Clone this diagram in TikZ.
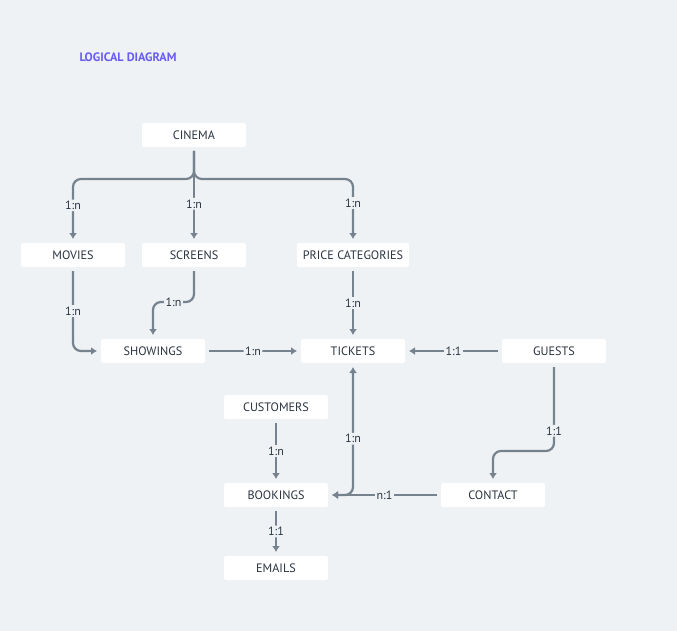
\documentclass[tikz,border=0pt]{standalone}
\usepackage{fontspec}
\setmainfont{PT Sans}
\usetikzlibrary{arrows.meta,positioning}
\definecolor{DiagramBack}{HTML}{EEF2F5}
\definecolor{DiagramLine}{HTML}{76838F}
\definecolor{DiagramText}{HTML}{2B3340}
\definecolor{DiagramTitle}{HTML}{6A5CF2}

\begin{document}
\begin{tikzpicture}[
    x=1pt,y=1pt,
    box/.style={
      fill=white,
      rounded corners=2pt,
      align=center,
      minimum width=104pt,
      minimum height=24pt,
      inner xsep=6pt,
      outer sep=4pt,
      text=DiagramText,
      font=\fontsize{12.2}{14}\selectfont
    },
    lbl/.style={
      fill=DiagramBack,
      inner sep=1.5pt,
      text=DiagramText,
      font=\fontsize{12}{14}\selectfont
    },
    link/.style={
      DiagramLine,line width=2.2pt,rounded corners=8pt,
      -{Latex[length=6pt,width=8pt]}
    }
  ]
    \fill[DiagramBack] (0,0) rectangle (677,-631);
    \useasboundingbox (0,0) rectangle (677,-631);
    \node[anchor=west,text=DiagramTitle,font=\fontsize{12.2}{14}\selectfont\bfseries] (title) at (76,-57)
      {LOGICAL DIAGRAM};
    \node[box] (cinema) at (194,-135) {CINEMA};
    \node[box] (movies) at (73,-255) {MOVIES};
    \node[box] (screens) at (194,-255) {SCREENS};
    \node[box] (price) at (353,-255) {PRICE CATEGORIES};
    \node[box] (showings) at (153,-351) {SHOWINGS};
    \node[box] (tickets) at (353,-351) {TICKETS};
    \node[box] (guests) at (554,-351) {GUESTS};
    \node[box] (customers) at (276,-407) {CUSTOMERS};
    \node[box] (bookings) at (276,-495) {BOOKINGS};
    \node[box] (contact) at (493,-495) {CONTACT};
    \node[box] (emails) at (276,-568) {EMAILS};
    % cinema fan-out
    \draw[link] (cinema.south) -- ++(0,-28) -| node[lbl,pos=0.72] {1:n} (movies.north);
    \draw[link] (cinema.south) -- node[lbl,pos=0.6] {1:n} (screens.north);
    \draw[link] (cinema.south) -- ++(0,-28) -| node[lbl,pos=0.7] {1:n} (price.north);
    % showings
    \draw[link] (movies.south) |- node[lbl,pos=0.25] {1:n} (showings.west);
    \draw[link] (screens.south) -- ++(0,-31) -| node[lbl,pos=0.25] {1:n} (showings.north);
    % tickets
    \draw[link] (showings.east) -- node[lbl] {1:n} (tickets.west);
    \draw[link] (price.south) -- node[lbl] {1:n} (tickets.north);
    \draw[link] (guests.west) -- node[lbl] {1:1} (tickets.east);
    \draw[link] (guests.south) -- node[lbl,pos=0.76] {1:1} ++(0,-84) -| (contact.north);
    % bookings
    \draw[link,{Latex[length=6pt,width=8pt]}-{Latex[length=6pt,width=8pt]}] (tickets.south) |- node[lbl,pos=0.28] {1:n} (bookings.east);
    \draw[link] (contact.west) -- node[lbl] {n:1} (bookings.east);
    \draw[link] (customers.south) -- node[lbl] {1:n} (bookings.north);
    \draw[link] (bookings.south) -- node[lbl] {1:1} (emails.north);
  \end{tikzpicture}
\end{document}
